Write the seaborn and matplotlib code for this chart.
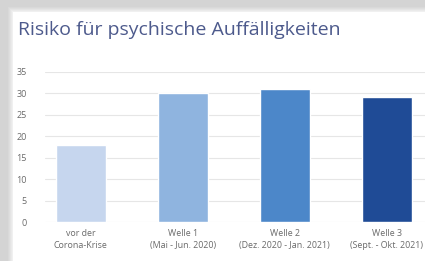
import matplotlib
matplotlib.use("Agg")
import matplotlib.pyplot as plt
import seaborn as sns
import pandas as pd
from matplotlib.patches import Rectangle

categories = ["vor der\nCorona-Krise", "Welle 1\n(Mai - Jun. 2020)",
              "Welle 2\n(Dez. 2020 - Jan. 2021)", "Welle 3\n(Sept. - Okt. 2021)"]
values = [18, 30, 31, 29]
colors = ["#c6d6ee", "#8fb4df", "#4c87c9", "#1f4b96"]
yticks = [0, 5, 10, 15, 20, 25, 30, 35]
title = "Risiko für psychische Auffälligkeiten"

sns.set_theme(style="white")
plt.rcParams['font.family'] = ['Open Sans', 'DejaVu Sans']

W, H = 425, 261
fig = plt.figure(figsize=(W / 100, H / 100), dpi=100)
fig.patch.set_facecolor("#d4d4d4")

# shadow gradient and white card
for i, c in enumerate(["#d9d9d9", "#dedede", "#e4e4e4", "#eaeaea", "#f0f0f0"]):
    fig.add_artist(Rectangle(((8 + i) / W, 0), 1, (H - 7 - i) / H,
                             transform=fig.transFigure, facecolor=c, edgecolor="none", zorder=0))
fig.add_artist(Rectangle((13 / W, 0), 1, (H - 12) / H, transform=fig.transFigure,
                         facecolor="white", edgecolor="none", zorder=0))

ax = fig.add_axes([45 / W, 39 / H, (W - 45) / W, (222 - 71.7) / H])
ax.set_facecolor("none")
df = pd.DataFrame({"cat": categories, "val": values})
sns.barplot(data=df, x="cat", y="val", hue="cat", palette=colors, legend=False,
            width=0.49, ax=ax, saturation=1, zorder=3)
ax.set_ylim(0, 35)
ax.set_xlim(-0.35, 3.375)
ax.set_yticks(yticks)
ax.set_yticklabels([str(t) for t in yticks])
ax.yaxis.grid(True, color="#e6e6e6", linewidth=0.8, zorder=0)
ax.set_axisbelow(True)
for s in ax.spines.values():
    s.set_visible(False)
ax.set_xlabel("")
ax.set_ylabel("")
ax.tick_params(axis="y", length=0, pad=13, labelsize=6.5, labelcolor="#6a6a6a")
ax.tick_params(axis="x", length=0, pad=5, labelsize=6.4, labelcolor="#6a6a6a")
for lbl in ax.get_xticklabels():
    lbl.set_linespacing(1.45)

fig.text(18 / W, 1 - 30 / H, title, fontsize=14, color="#4d5a8c", va="center", ha="left")

fig.savefig("out.png", dpi=100, facecolor=fig.get_facecolor())
